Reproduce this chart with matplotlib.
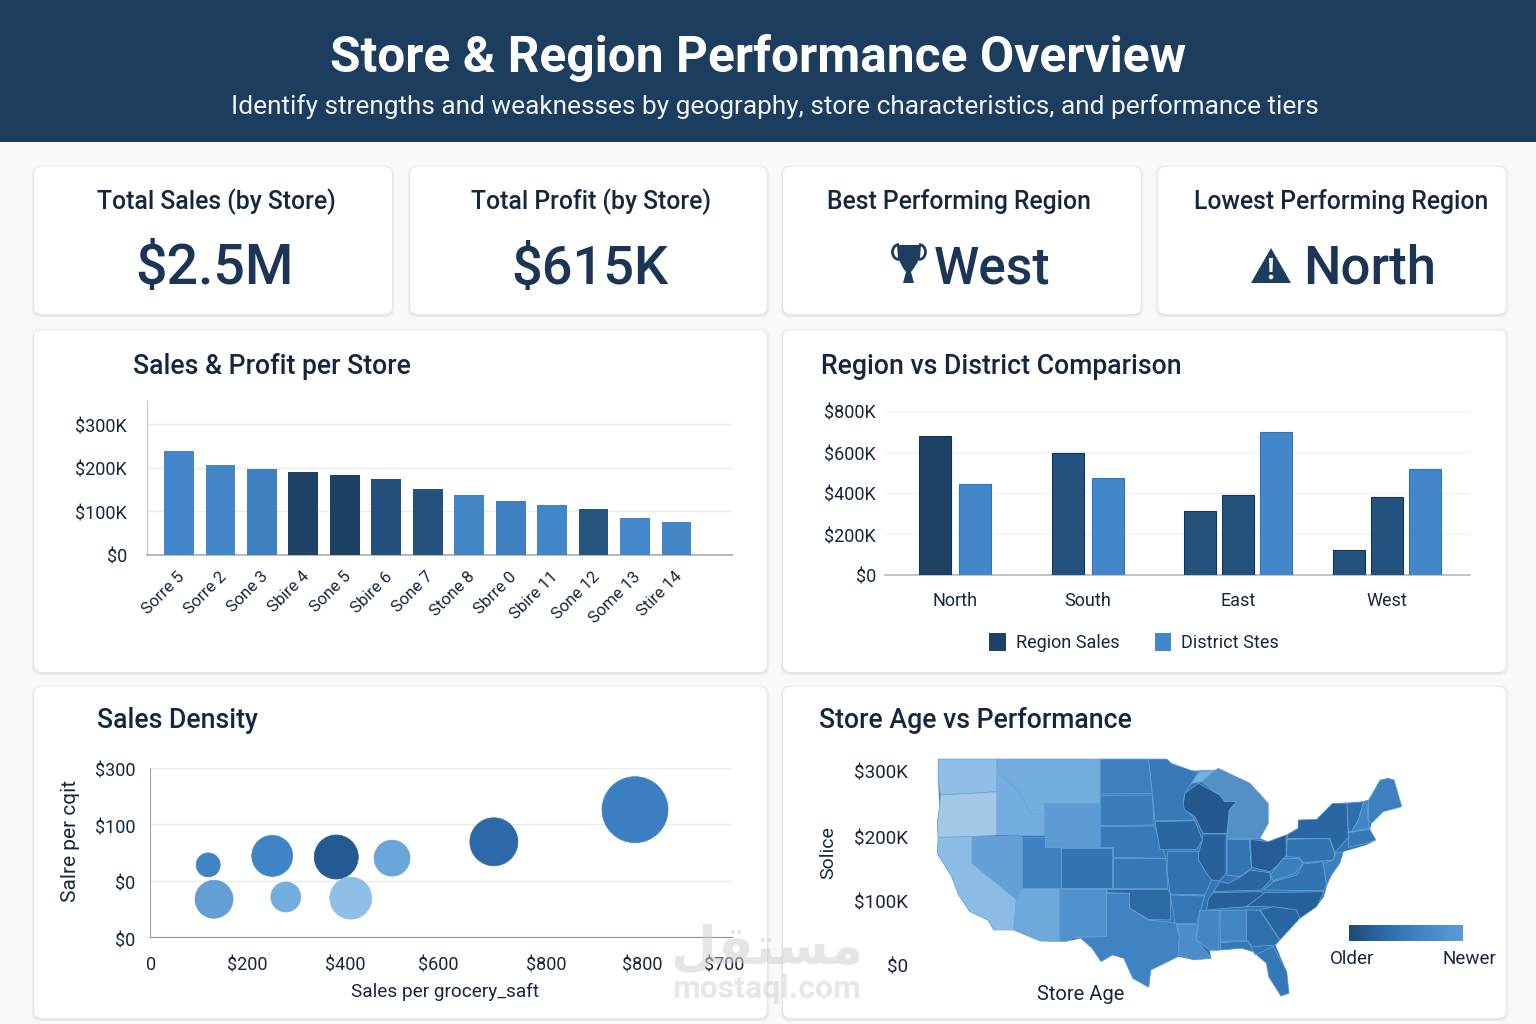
import numpy as np
import matplotlib
matplotlib.use('Agg')
import matplotlib.pyplot as plt
from matplotlib.colors import LinearSegmentedColormap
from matplotlib.patches import FancyBboxPatch, Polygon, Rectangle, Circle, Arc
from matplotlib.transforms import ScaledTranslation

plt.rcParams['font.family'] = ['Roboto', 'DejaVu Sans']

W, H = 1536, 1024
INK = '#15273f'
NAVY = '#1c3d5e'
DARK = '#1e4266'
MID = '#24527f'
BLUE = '#4387ca'

kpi_titles = ['Total Sales (by Store)', 'Total Profit (by Store)',
              'Best Performing Region', 'Lowest Performing Region']
kpi_values = ['$2.5M', '$615K', 'West', 'North']

# Sales & profit per store
store_labels = ['Sorre 5', 'Sorre 2', 'Sone 3', 'Sbire 4', 'Sone 5', 'Sbire 6', 'Sone 7',
                'Stone 8', 'Sbrre 0', 'Sbire 11', 'Sone 12', 'Some 13', 'Stire 14']
store_values = [238, 206, 197, 190, 185, 174, 151, 139, 124, 114, 105, 85, 75]
store_colors = ['#4387ca', '#4487c8', '#3f81c0', '#1e4266', '#1d4164', '#23507d', '#24527f',
                '#4185c5', '#3e80bf', '#4186c6', '#25557f', '#4388cb', '#4286c6']

# Region vs district
regions = ['North', 'South', 'East', 'West']
region_centers = [70, 203, 353, 502]
region_values = [[678, 444], [595, 473], [312, 390, 698], [122, 380, 517]]
region_colors = [[DARK, BLUE], [MID, BLUE], [MID, MID, BLUE], [MID, MID, BLUE]]
legend_names = ['Region Sales', 'District Stes']

# Sales density bubbles
density_x = [120, 252, 384, 499, 709, 1000, 132, 280, 414]
density_y = [1.28, 1.44, 1.42, 1.40, 1.69, 2.26, 0.67, 0.71, 0.69]
density_size = [299, 871, 1004, 672, 1194, 2258, 749, 467, 914]
density_colors = ['#3f83c4', '#3f84c6', '#235a92', '#6aa6d9', '#2d69a8',
                  '#3c7fc0', '#639fd3', '#74aede', '#8fbfe6']
density_xticks = [2, 200, 402, 595, 817, 1015, 1184]
density_xlabels = ['0', '$200', '$400', '$600', '$800', '$800', '$700']
density_ylabels = ['$0', '$0', '$100', '$300']

# Outline of the whole country, drawn under the states
us_outline = [(305, 57), (810, 57), (820, 70), (865, 92), (916, 90), (924, 85), (994, 130), (1034, 190), (1034, 250),
              (1016, 295), (1034, 305), (1073, 285), (1078, 282), (1100, 265), (1100, 240), (1141, 238), (1176, 190),
              (1245, 185), (1255, 180), (1281, 120), (1299, 115), (1312, 120), (1329, 200), (1288, 215), (1262, 250),
              (1259, 268), (1272, 300), (1251, 315), (1200, 335), (1192, 370), (1174, 405), (1163, 440), (1157, 470),
              (1141, 500), (1104, 535), (1060, 600), (1050, 615), (1075, 695), (1080, 760), (1062, 768), (1035, 710),
              (1030, 670), (1000, 635), (975, 625), (930, 630), (905, 632), (908, 655), (870, 660), (835, 650),
              (775, 690), (770, 742), (735, 715), (715, 655), (690, 645), (665, 665), (645, 625), (620, 595),
              (590, 604), (530, 603), (472, 570), (428, 570), (415, 540), (375, 515), (350, 465), (335, 410),
              (303, 340), (305, 292), (303, 250), (308, 200), (305, 120)]

state_shapes = {
    'WA': [(305, 57), (435, 57), (435, 155), (380, 160), (310, 165), (305, 120)],
    'OR': [(310, 165), (380, 160), (435, 155), (435, 285), (380, 290), (305, 292), (303, 250), (308, 200)],
    'CA': [(305, 292), (380, 290), (380, 370), (478, 478), (472, 570), (428, 570), (415, 540), (375, 515),
           (350, 465), (335, 410), (303, 340)],
    'NV': [(380, 290), (490, 290), (490, 445), (478, 478), (380, 370)],
    'ID': [(435, 57), (440, 100), (480, 150), (510, 220), (540, 225), (540, 287), (435, 285)],
    'MT': [(435, 57), (662, 57), (662, 190), (540, 190), (540, 225), (510, 220), (480, 150), (440, 100)],
    'WY': [(540, 192), (662, 192), (662, 322), (540, 322)],
    'UT': [(490, 290), (540, 290), (540, 322), (577, 322), (577, 445), (490, 445)],
    'CO': [(577, 325), (690, 325), (690, 445), (577, 445)],
    'AZ': [(490, 447), (573, 447), (573, 605), (530, 603), (472, 570), (478, 478)],
    'NM': [(576, 449), (677, 449), (677, 590), (605, 592), (590, 604), (576, 604)],
    'ND': [(663, 57), (770, 57), (778, 160), (663, 162)],
    'SD': [(663, 166), (778, 165), (782, 255), (663, 257)],
    'NE': [(663, 260), (782, 258), (795, 300), (808, 355), (692, 352), (692, 322), (663, 322)],
    'KS': [(692, 356), (808, 356), (812, 445), (692, 445)],
    'OK': [(677, 449), (812, 449), (818, 462), (818, 540), (770, 538), (728, 505), (728, 460), (680, 458)],
    'TX': [(677, 460), (728, 460), (728, 505), (770, 540), (830, 548), (838, 590), (835, 650), (775, 690),
           (770, 742), (735, 715), (715, 655), (690, 645), (665, 665), (645, 625), (620, 595), (605, 592), (677, 590)],
    'MN': [(770, 57), (810, 57), (820, 70), (865, 92), (880, 95), (865, 130), (850, 160), (846, 195), (872, 240),
           (784, 243), (778, 160)],
    'IA': [(784, 245), (872, 242), (889, 300), (876, 328), (795, 328)],
    'MO': [(811, 335), (880, 335), (880, 360), (909, 420), (894, 465), (818, 462), (811, 400)],
    'AR': [(818, 465), (894, 468), (876, 550), (828, 550)],
    'LA': [(832, 553), (878, 553), (875, 600), (908, 655), (870, 660), (835, 645), (838, 590)],
    'UP': [(865, 130), (883, 95), (916, 90), (887, 125)],
    'MI': [(887, 125), (924, 85), (994, 130), (1034, 190), (1034, 250), (1016, 295), (943, 295), (948, 210),
           (964, 185), (938, 185), (927, 165)],
    'WI': [(846, 195), (850, 160), (880, 130), (927, 165), (938, 185), (964, 185), (948, 210), (943, 280),
           (890, 280), (872, 230), (850, 210)],
    'IL': [(890, 282), (941, 282), (941, 400), (927, 422), (909, 420), (898, 400), (880, 360), (880, 340), (889, 300)],
    'IN': [(943, 298), (992, 298), (997, 385), (971, 410), (943, 405)],
    'OH': [(995, 298), (1034, 305), (1073, 285), (1074, 345), (1060, 370), (1038, 395), (997, 382)],
    'KY': [(927, 425), (946, 430), (971, 412), (994, 390), (1038, 398), (1039, 420), (1019, 450), (913, 455)],
    'TN': [(902, 475), (913, 458), (1019, 455), (1027, 465), (986, 500), (898, 510)],
    'NC': [(1027, 458), (1157, 455), (1141, 500), (1104, 535), (1074, 505), (1027, 500), (986, 500)],
    'VA': [(1024, 450), (1045, 425), (1097, 405), (1111, 372), (1155, 365), (1163, 435), (1155, 452)],
    'WV': [(1039, 405), (1067, 355), (1102, 355), (1111, 370), (1093, 400), (1045, 422)],
    'PA': [(1076, 298), (1169, 295), (1181, 340), (1178, 360), (1111, 368), (1102, 352), (1074, 350)],
    'NY': [(1100, 240), (1141, 238), (1176, 190), (1208, 190), (1211, 292), (1181, 338), (1170, 295), (1076, 295),
           (1078, 282), (1100, 265)],
    'NJ': [(1183, 340), (1200, 335), (1192, 370), (1174, 405), (1163, 435), (1155, 370), (1178, 360)],
    'VT': [(1208, 190), (1245, 185), (1233, 240), (1218, 275), (1211, 275)],
    'NH': [(1245, 185), (1251, 180), (1255, 240), (1258, 265), (1218, 275), (1233, 240)],
    'ME': [(1255, 185), (1281, 120), (1299, 115), (1312, 120), (1329, 200), (1288, 215), (1262, 250), (1255, 240)],
    'MA': [(1211, 278), (1258, 268), (1272, 300), (1251, 310), (1211, 322)],
    'MS': [(882, 512), (926, 512), (925, 632), (905, 630), (875, 600), (880, 555)],
    'AL': [(928, 512), (985, 510), (986, 600), (928, 605)],
    'GA': [(986, 510), (1015, 510), (1060, 600), (1050, 615), (1000, 620), (986, 600)],
    'SC': [(1016, 510), (1045, 500), (1097, 510), (1104, 535), (1060, 600)],
    'FL': [(928, 608), (990, 604), (1005, 645), (1045, 620), (1075, 695), (1080, 760), (1062, 768), (1035, 710),
           (1030, 670), (1000, 635), (975, 625), (930, 630)],
}
state_colors = {
    'WA': '#8fbfe6', 'OR': '#a3c8e8', 'CA': '#8bbce6', 'NV': '#649fd5', 'ID': '#74aee0', 'MT': '#74aede',
    'WY': '#5d9ad2', 'UT': '#3f82c2', 'CO': '#3273b2', 'AZ': '#6fa9dc', 'NM': '#4f91cd', 'ND': '#3c80c0',
    'SD': '#3a7dbd', 'NE': '#3779b9', 'KS': '#3677b6', 'OK': '#2c6aa6', 'TX': '#3f83c3', 'MN': '#3779b8',
    'IA': '#2a67a2', 'MO': '#3272b0', 'AR': '#3577b5', 'LA': '#4a8dcb', 'UP': '#7ab0e0', 'MI': '#5590c5',
    'WI': '#24598f', 'IL': '#28609b', 'IN': '#3375b4', 'OH': '#265c95', 'KY': '#2a66a1', 'TN': '#27609a',
    'NC': '#27609a', 'VA': '#3274b3', 'WV': '#3c7fbe', 'PA': '#3274b2', 'NY': '#2a66a2',
    'NJ': '#3b7fc0', 'VT': '#2f6fae', 'NH': '#4286c6', 'ME': '#3c80c0', 'MA': '#3478b8', 'MS': '#4286c6',
    'AL': '#4185c5', 'GA': '#2f6fad', 'SC': '#2a66a1', 'FL': '#3478b7',
}

map_ticks = ['$300K', '$200K', '$100K', '$0']


def px_axes(fig, x0, y0, x1, y1):
    # axes placed by pixel box, y counted from the top
    return fig.add_axes([x0 / W, 1 - y1 / H, (x1 - x0) / W, (y1 - y0) / H])


def card(ax, x0, y0, x1, y1):
    for grow, alpha in [(3, 0.04), (2, 0.06), (1, 0.09)]:
        ax.add_patch(FancyBboxPatch((x0 - grow, y0 - grow + 1), x1 - x0 + 2 * grow, y1 - y0 + 2 * grow,
                                    boxstyle='round,pad=0,rounding_size=9', fc='#8a94a0', ec='none', alpha=alpha))
    ax.add_patch(FancyBboxPatch((x0, y0), x1 - x0, y1 - y0, boxstyle='round,pad=0,rounding_size=8',
                                fc='white', ec='none'))


def nudge(labels, dx, dy, fig):
    # shift tick labels by pixels, dy positive is downward
    shift = ScaledTranslation(dx / 100, -dy / 100, fig.dpi_scale_trans)
    for label in labels:
        label.set_transform(label.get_transform() + shift)


fig = plt.figure(figsize=(W / 100, H / 100), dpi=100, facecolor='#f8f9fb')

# page background, header and cards
bg = fig.add_axes([0, 0, 1, 1])
bg.set_xlim(0, W)
bg.set_ylim(H, 0)
bg.axis('off')
bg.add_patch(Rectangle((0, 0), W, 142, fc=NAVY, ec='none'))
bg.text(758, 58, 'Store & Region Performance Overview', color='white', fontsize=35.7,
        fontweight='bold', ha='center', va='center')
bg.text(775, 107, 'Identify strengths and weaknesses by geography, store characteristics, and performance tiers',
        color='#eef3f8', fontsize=18.9, ha='center', va='center')

kpi_boxes = [(34, 392), (410, 767), (783, 1141), (1158, 1506)]
for x0, x1 in kpi_boxes:
    card(bg, x0, 167, x1, 314)
for box in [(34, 330, 767, 672), (783, 330, 1506, 672), (34, 687, 767, 1018), (783, 687, 1506, 1018)]:
    card(bg, *box)

kpi_title_x = [216, 591, 959, 1341]
kpi_value_x = [214, 590, 992, 1370]
kpi_sizes = [40, 39, 37, 38]
for tx, vx, size, title, value in zip(kpi_title_x, kpi_value_x, kpi_sizes, kpi_titles, kpi_values):
    bg.text(tx, 202, title, color=INK, fontsize=17.8, fontweight='medium', ha='center', va='center')
    bg.text(vx, 269, value, color='#1c3557', fontsize=size, fontweight='medium', ha='center', va='center')

# trophy icon
bg.add_patch(Polygon([(897, 245), (921, 245), (920, 258), (914, 268), (911, 272), (914, 283), (903, 283),
                      (906, 272), (903, 268), (898, 258)], fc=NAVY, ec='none'))
bg.add_patch(Arc((899, 252), 13, 15, theta1=90, theta2=270, ec=NAVY, lw=2))
bg.add_patch(Arc((919, 252), 13, 15, theta1=270, theta2=90, ec=NAVY, lw=2))
# warning icon
bg.add_patch(Polygon([(1271, 248), (1291, 283), (1251, 283)], fc=NAVY, ec='none'))
bg.add_patch(Polygon([(1269, 258), (1273, 258), (1272.5, 272), (1269.5, 272)], fc='white', ec='none'))
bg.add_patch(Circle((1271, 277), 2.3, fc='white', ec='none'))

bg.text(133, 366, 'Sales & Profit per Store', color=INK, fontsize=19.2, fontweight='medium', va='center')
bg.text(821, 366, 'Region vs District Comparison', color=INK, fontsize=19.2, fontweight='medium', va='center')
bg.text(97, 721, 'Sales Density', color=INK, fontsize=19.2, fontweight='medium', va='center')
bg.text(819, 721, 'Store Age vs Performance', color=INK, fontsize=19.2, fontweight='medium', va='center')

# store bars
ax1 = px_axes(fig, 147, 401, 732, 555)
ax1.patch.set_alpha(0)
positions = np.arange(len(store_values))
ax1.bar(positions, store_values, width=0.72, color=store_colors, zorder=3)
ax1.set_xlim(-0.772, 13.34)
ax1.set_ylim(0, 354)
ax1.set_yticks([0, 100, 200, 300])
ax1.set_yticklabels(['$0', '$100K', '$200K', '$300K'], fontsize=13, color=INK)
ax1.set_xticks(positions)
ax1.set_xticklabels(store_labels, rotation=45, ha='right', rotation_mode='anchor', fontsize=12, color=INK)
ax1.tick_params(length=0, pad=20, axis='y')
ax1.tick_params(length=0, pad=10, axis='x')
nudge(ax1.get_yticklabels(), 8, 1, fig)
nudge(ax1.get_xticklabels(), -2, 0, fig)
ax1.grid(axis='y', color='#e9ecef', lw=1, zorder=0)
for side in ['top', 'right']:
    ax1.spines[side].set_visible(False)
ax1.spines['left'].set_color('#c2c7cd')
ax1.spines['bottom'].set_color('#b4b9bf')
ax1.spines['bottom'].set_linewidth(1.4)

# region bars
ax2 = px_axes(fig, 885, 411, 1470, 575)
ax2.patch.set_alpha(0)
for center, values, colors in zip(region_centers, region_values, region_colors):
    step = 40 if len(values) == 2 else 38
    offsets = (np.arange(len(values)) - (len(values) - 1) / 2) * step
    edges = ['#2a76c0' if c == BLUE else '#143557' for c in colors]
    ax2.bar(center + offsets, values, width=32, color=colors, edgecolor=edges, linewidth=0.8, zorder=3)
ax2.set_xlim(0, 585)
ax2.set_ylim(0, 800)
ax2.set_yticks([0, 200, 400, 600, 800])
ax2.set_yticklabels(['$0', '$200K', '$400K', '$600K', '$800K'], fontsize=13, color=INK)
ax2.set_xticks(region_centers)
ax2.set_xticklabels(regions, fontsize=13, color=INK)
ax2.tick_params(length=0, axis='y', pad=10)
ax2.tick_params(length=0, axis='x', pad=12)
nudge(ax2.get_yticklabels(), 5, 1, fig)
ax2.grid(axis='y', color='#eef0f2', lw=1, zorder=0)
for side in ['top', 'right', 'left']:
    ax2.spines[side].set_visible(False)
ax2.spines['bottom'].set_color('#b4b9bf')
ax2.spines['bottom'].set_linewidth(1.2)
bg.add_patch(Rectangle((989, 633), 17, 18, fc=DARK, ec='none'))
bg.add_patch(Rectangle((1155, 633), 16, 18, fc=BLUE, ec='none'))
bg.text(1016, 643, legend_names[0], color=INK, fontsize=13, va='center')
bg.text(1181, 643, legend_names[1], color=INK, fontsize=13, va='center')

# density bubbles
ax3 = px_axes(fig, 150, 768, 732, 937)
ax3.patch.set_alpha(0)
ax3.scatter(density_x, density_y, s=density_size, c=density_colors, edgecolors='face', linewidths=0.5, zorder=3,
            clip_on=False)
ax3.set_xlim(0, 1200)
ax3.set_ylim(0, 3)
ax3.set_yticks([0, 1, 2, 3])
ax3.set_yticklabels(density_ylabels, fontsize=13, color=INK)
ax3.set_xticks(density_xticks)
ax3.set_xticklabels(density_xlabels, fontsize=13, color=INK)
ax3.tick_params(length=0, axis='y', pad=15)
ax3.tick_params(length=0, axis='x', pad=14)
nudge(ax3.get_yticklabels(), 6, 2, fig)
ax3.grid(axis='y', color='#e9ecef', lw=1, zorder=0)
for side in ['top', 'right']:
    ax3.spines[side].set_visible(False)
ax3.spines['left'].set_color('#98a4b2')
ax3.spines['bottom'].set_color('#8493a5')
bg.text(70, 841, 'Salre per cqit', color=INK, fontsize=15, rotation=90, ha='center', va='center')
bg.text(445, 992, 'Sales per grocery_saft', color=INK, fontsize=13.7, ha='center', va='center')

# state map
ax4 = px_axes(fig, 800, 740, 1510, 1020)
ax4.set_xlim(0, 1568)
ax4.set_ylim(840, 0)
ax4.axis('off')
ax4.add_patch(Polygon(us_outline, closed=True, fc='#3375b4', ec='none'))
for name, outline in state_shapes.items():
    ax4.add_patch(Polygon(outline, closed=True, fc=state_colors[name], ec='#6fa6da', lw=0.5, joinstyle='round'))

for y, label in zip([774, 840, 904, 968], map_ticks):
    bg.text(908, y, label, color=INK, fontsize=13.6, ha='right', va='center')
bg.text(828, 853, 'Solice', color=INK, fontsize=14, rotation=90, ha='center', va='center')
bg.text(1081, 995, 'Store Age', color=INK, fontsize=14.5, ha='center', va='center')

age_cmap = LinearSegmentedColormap.from_list('age', ['#1f4a75', '#2d6cab', '#4388ca', '#5c9ad6'])
ax5 = px_axes(fig, 1349, 925, 1463, 941)
ax5.imshow(np.linspace(0, 1, 256).reshape(1, -1), aspect='auto', cmap=age_cmap)
ax5.axis('off')
bg.text(1352, 959, 'Older', color=INK, fontsize=13.5, ha='center', va='center')
bg.text(1469, 959, 'Newer', color=INK, fontsize=13.5, ha='center', va='center')

# watermark sits above everything
top = fig.add_axes([0, 0, 1, 1])
top.set_xlim(0, W)
top.set_ylim(H, 0)
top.axis('off')
top.text(767, 948, '\ufede\ufed8\ufe98\ufeb4\ufee3', family='DejaVu Sans', fontweight='bold', fontsize=38,
         color='#d0d0d0', alpha=0.55, ha='center', va='center')
top.text(767, 989, 'mostaql.com', fontsize=23, fontweight='bold', color='#d0d0d0', alpha=0.5,
         ha='center', va='center')

fig.savefig('out.png', dpi=100)
